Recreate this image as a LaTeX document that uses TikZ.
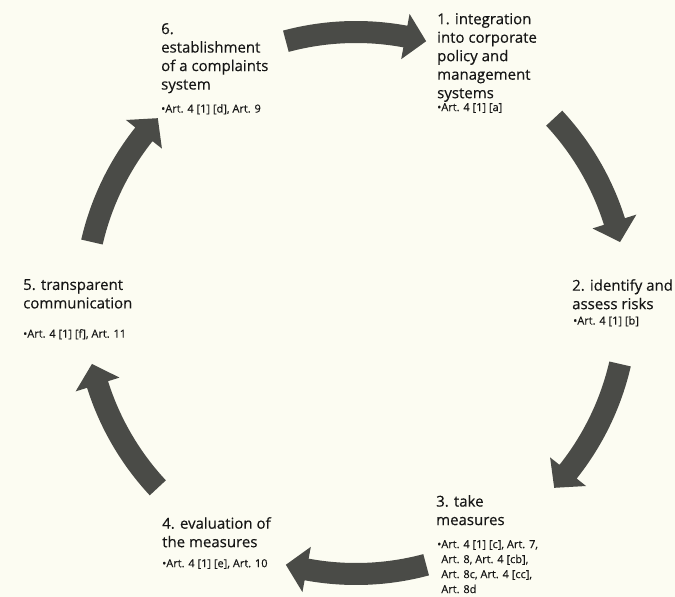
\documentclass[tikz,border=0pt]{standalone}
\usepackage{fontspec}
\setmainfont[FakeBold=0.35]{Open Sans}
\usepackage{xcolor}
\usetikzlibrary{calc,positioning}

\definecolor{cream}{RGB}{252,252,242}
\definecolor{arrowgray}{RGB}{74,75,71}
\definecolor{textdark}{RGB}{22,22,22}

% one curved block arrow of the cycle, centred on angle #1 round (c)
\newcommand{\cyclearrow}[1]{%
  \fill[arrowgray]
    ($(c)+(#1+15:282pt)$) arc[start angle=#1+15, end angle=#1-10.5, radius=282pt]
    -- ($(c)+(#1-10.5:294pt)$) -- ($(c)+(#1-15:271pt)$) -- ($(c)+(#1-10.5:248pt)$)
    -- ($(c)+(#1-10.5:260pt)$) arc[start angle=#1-10.5, end angle=#1+15, radius=260pt]
    -- cycle;}

\begin{document}
\begin{tikzpicture}
      [ x=1pt, y=-1pt,
        title/.style={anchor=north west, inner sep=0pt, align=left, text=textdark,
                      font=\fontsize{15}{18.5}\selectfont},
        art/.style={anchor=north west, inner sep=0pt, align=left, text=textdark,
                    font=\fontsize{11}{15}\selectfont}
      ]
      \fill[cream] (0,0) rectangle (675,597);
      \coordinate (c) at (356,303);

      \cyclearrow{90}
      \cyclearrow{28}
      \cyclearrow{-28}
      \cyclearrow{-90}
      \cyclearrow{-152}
      \cyclearrow{152}

      \node[title] (t1) at (437,13)  {1. integration\\into corporate\\policy and\\management\\systems};
      \node[art]   (a1) at (437,103) {•Art. 4 [1] [a]};

      \node[title] (t2) at (572,279) {2. identify and\\assess risks};
      \node[art]   (a2) at (573,316) {•Art. 4 [1] [b]};

      \node[title] (t3) at (436,495) {3. take\\measures};
      \node[art]   (a3) at (437,540) {•Art. 4 [1] [c], Art. 7,\\\hphantom{•}Art. 8, Art. 4 [cb],\\\hphantom{•}Art. 8c, Art. 4 [cc],\\\hphantom{•}Art. 8d};

      \node[title] (t4) at (162,517) {4. evaluation of\\the measures};
      \node[art]   (a4) at (162,559) {•Art. 4 [1] [e], Art. 10};

      \node[title] (t5) at (23,279)  {5. transparent\\communication};
      \node[art]   (a5) at (23,329)  {•Art. 4 [1] [f], Art. 11};

      \node[title] (t6) at (161,23)  {6.\\establishment\\of a complaints\\system};
      \node[art]   (a6) at (161,104) {•Art. 4 [1] [d], Art. 9};
    \end{tikzpicture}
\end{document}
